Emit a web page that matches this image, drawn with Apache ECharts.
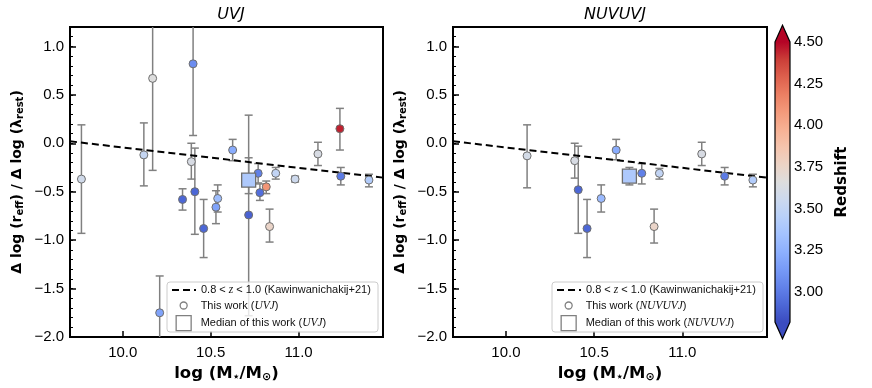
<!DOCTYPE html>
<html>
<head>
<meta charset="utf-8">
<script src="https://cdn.jsdelivr.net/npm/echarts@6/dist/echarts.min.js"></script>
<style>
  html, body { margin: 0; padding: 0; background: #fff; }
  #chart { width: 872px; height: 388px; }
</style>
</head>
<body>
<div id="chart"></div>
<script>
// ---- UVJ panel (left) ----
const uvjMass  = [9.765, 10.12, 10.17, 10.21, 10.34, 10.39, 10.40, 10.41, 10.46, 10.53, 10.54, 10.625, 10.716, 10.77, 10.78, 10.816, 10.835, 10.87, 10.98, 11.11, 11.235, 11.24, 11.40];
const uvjSlope = [-0.37, -0.12, 0.67, -1.75, -0.58, -0.19, 0.82, -0.50, -0.88, -0.66, -0.57, -0.07, -0.74, -0.31, -0.51, -0.45, -0.86, -0.31, -0.37, -0.11, 0.15, -0.34, -0.38];
const uvjLo    = [-0.93, -0.44, -0.28, -2.30, -0.69, -0.37, 0.08, -0.94, -1.18, -0.83, -0.71, -0.18, -1.78, -0.41, -0.59, -0.52, -1.02, -0.37, -0.40, -0.23, -0.07, -0.43, -0.45];
const uvjHi    = [0.19, 0.21, 1.60, -1.37, -0.47, 0.00, 1.60, -0.05, -0.58, -0.49, -0.43, 0.04, 0.29, -0.21, -0.42, -0.39, -0.68, -0.25, -0.34, 0.01, 0.36, -0.25, -0.32];
const uvjZ     = [3.58, 3.52, 3.66, 3.18, 2.92, 3.62, 3.08, 2.92, 2.92, 3.18, 3.32, 3.22, 2.90, 3.02, 2.95, 4.10, 3.75, 3.50, 3.56, 3.62, 4.45, 3.00, 3.42];
const uvjMedMass = [10.716];
const uvjMedSlope = [-0.38];
const uvjMedLo = [-0.52];
const uvjMedHi = [-0.15];
const uvjMedZ = [3.40];

// ---- NUVUVJ panel (right) ----
const nuvMass  = [10.12, 10.39, 10.41, 10.46, 10.54, 10.625, 10.77, 10.84, 10.87, 11.11, 11.24, 11.40];
const nuvSlope = [-0.13, -0.18, -0.48, -0.88, -0.57, -0.07, -0.31, -0.86, -0.31, -0.11, -0.34, -0.38];
const nuvLo    = [-0.46, -0.36, -0.93, -1.18, -0.71, -0.17, -0.42, -1.03, -0.37, -0.23, -0.43, -0.45];
const nuvHi    = [0.19, 0.00, -0.03, -0.58, -0.43, 0.04, -0.21, -0.68, -0.26, 0.01, -0.25, -0.32];
const nuvZ     = [3.60, 3.62, 2.92, 2.92, 3.30, 3.22, 3.02, 3.75, 3.50, 3.62, 3.00, 3.42];
const nuvMedMass = [10.70];
const nuvMedSlope = [-0.34];
const nuvMedLo = [-0.43];
const nuvMedHi = [-0.25];
const nuvMedZ = [3.40];

// Kawinwanichakij+21 relation (0.8 < z < 1.0), end points
const kawMass = [9.70, 11.48];
const kawSlope = [0.02, -0.355];

// axes
const massRange = [9.70, 11.48];
const massTicks = [10.0, 10.5, 11.0];
const slopeRange = [-2.0, 1.2];
const slopeTicks = [-2.0, -1.5, -1.0, -0.5, 0.0, 0.5, 1.0];
const cbarRange = [2.82, 4.5];
const cbarTicks = [3.00, 3.25, 3.50, 3.75, 4.00, 4.25, 4.50];

// matplotlib coolwarm
const coolwarm = ['#3b4cc0', '#4d68d7', '#6282ea', '#779af7', '#8db0fe', '#a3c2ff', '#b8d0f9', '#ccd9ee',
  '#dddddd', '#ecd3c5', '#f5c4ad', '#f7b194', '#f49a7b', '#ec7f63', '#de604d', '#cb3e38', '#b40426'];

const minorTicks = [];
for (let i = -20; i <= 12; i++) minorTicks.push(i / 10);

const FONT = 'DejaVu Sans';
const TICKFONT = 'Liberation Sans';
const ERR = '#808080';

function zip(...cols) {
  return cols[0].map((_, i) => cols.map(c => c[i]));
}

function renderErr(params, api) {
  const x = api.value(0);
  const top = api.coord([x, api.value(2)]);
  const bot = api.coord([x, api.value(1)]);
  const cw = 4;
  const st = { stroke: ERR, lineWidth: 1.5 };
  return {
    type: 'group',
    children: [
      { type: 'line', shape: { x1: top[0], y1: top[1], x2: bot[0], y2: bot[1] }, style: st },
      { type: 'line', shape: { x1: top[0] - cw, y1: top[1], x2: top[0] + cw, y2: top[1] }, style: st },
      { type: 'line', shape: { x1: bot[0] - cw, y1: bot[1], x2: bot[0] + cw, y2: bot[1] }, style: st }
    ]
  };
}

function renderColorbar(params, api) {
  const lo = api.coord([0, cbarRange[0]]);
  const hi = api.coord([1, cbarRange[1]]);
  const tipT = api.coord([0.5, cbarRange[1] + 0.1]);
  const tipB = api.coord([0.5, cbarRange[0] - 0.1]);
  const x0 = lo[0], x1 = hi[0], yT = hi[1], yB = lo[1];
  const n = coolwarm.length - 1;
  const stops = coolwarm.map((c, i) => ({ offset: 1 - i / n, color: c }));
  stops.reverse();
  return {
    type: 'group',
    children: [
      { type: 'rect', shape: { x: x0, y: yT, width: x1 - x0, height: yB - yT },
        style: { fill: new echarts.graphic.LinearGradient(0, 0, 0, 1, stops) } },
      { type: 'polygon', shape: { points: [[x0, yT], tipT, [x1, yT]] }, style: { fill: coolwarm[n] } },
      { type: 'polygon', shape: { points: [[x0, yB], tipB, [x1, yB]] }, style: { fill: coolwarm[0] } },
      { type: 'polygon', shape: { points: [[x0, yT], tipT, [x1, yT], [x1, yB], tipB, [x0, yB]] },
        style: { fill: 'none', stroke: '#000', lineWidth: 1.2 } }
    ]
  };
}

const labelNames = {
  kaw: '0.8 < {i|z} < 1.0 (Kawinwanichakij+21)',
  uvjPts: 'This work ({i|UVJ})',
  uvjMed: 'Median of this work ({i|UVJ})',
  nuvPts: 'This work ({i|NUVUVJ})',
  nuvMed: 'Median of this work ({i|NUVUVJ})'
};
const legendText = {
  fontFamily: TICKFONT, fontSize: 11, color: '#111',
  rich: { i: { fontFamily: 'Liberation Serif', fontStyle: 'italic', fontSize: 11.5, color: '#111' } }
};
// legends are placed by their bounding box, so the icon inset is added to left
function legendRow(item, left, cy, w, h) {
  return {
    left: left, top: cy - 7, itemWidth: w, itemHeight: h, padding: 0,
    selectedMode: false, z: 101, data: [item], textStyle: legendText,
    formatter: name => labelNames[name]
  };
}
const dashLine = name => ({ name: name, itemStyle: { opacity: 0, color: 'transparent', borderWidth: 0 } });
const openCircle = name => ({ name: name, icon: 'path://M5,0A5,5 0 1 1 5,10A5,5 0 1 1 5,0Z', itemStyle: { color: '#fff', borderColor: ERR, borderWidth: 1.3 } });
const openSquare = name => ({ name: name, icon: 'path://M0,0H10V10H0Z', itemStyle: { color: '#fff', borderColor: ERR, borderWidth: 1.3 } });

const yName = '{b|Δ log (r}{s|eff}{b|) / Δ log (λ}{s|rest}{b|)}';
const yNameStyle = {
  color: '#000',
  rich: {
    b: { fontFamily: FONT, fontWeight: 'bold', fontSize: 14, color: '#000' },
    s: { fontFamily: FONT, fontWeight: 'bold', fontSize: 10, color: '#000', padding: [6, 0, 0, 0] }
  }
};
const xName = '{b|log (M}{s|⋆}{b|/M}{s|⊙}{b|)}';
const xNameStyle = {
  color: '#000',
  rich: {
    b: { fontFamily: FONT, fontWeight: 'bold', fontSize: 16.5, color: '#000' },
    s: { fontFamily: FONT, fontWeight: 'bold', fontSize: 11, color: '#000', padding: [7, 0, 0, 0] }
  }
};

function massAxis(gridIndex) {
  return {
    type: 'value', gridIndex: gridIndex, min: massRange[0], max: massRange[1],
    name: xName, nameLocation: 'middle', nameGap: 23, nameTextStyle: xNameStyle,
    axisLine: { show: true, onZero: false, lineStyle: { color: '#000', width: 2 } },
    axisTick: { show: true, inside: true, length: 6, customValues: massTicks, lineStyle: { color: '#000', width: 1.5 } },
    axisLabel: { customValues: massTicks, formatter: v => v.toFixed(1), fontFamily: TICKFONT, fontSize: 15, color: '#000', margin: 8 },
    splitLine: { show: false }
  };
}
function slopeAxis(gridIndex) {
  return {
    type: 'value', gridIndex: gridIndex, min: slopeRange[0], max: slopeRange[1],
    name: yName, nameLocation: 'middle', nameGap: 45, nameRotate: 90, nameTextStyle: yNameStyle,
    axisLine: { show: true, onZero: false, lineStyle: { color: '#000', width: 2 } },
    axisTick: { show: true, inside: true, length: 6, customValues: slopeTicks, lineStyle: { color: '#000', width: 1.5 } },
    axisLabel: { customValues: slopeTicks, formatter: v => v.toFixed(1).replace('-', '\u2212'), fontFamily: TICKFONT, fontSize: 15, color: '#000', margin: 6 },
    splitLine: { show: false }
  };
}
function minorAxis(gridIndex) {
  return {
    type: 'value', gridIndex: gridIndex, min: slopeRange[0], max: slopeRange[1], position: 'left',
    axisLine: { show: false, onZero: false },
    axisTick: { show: true, inside: true, length: 3, customValues: minorTicks, lineStyle: { color: '#000', width: 1 } },
    axisLabel: { show: false }, splitLine: { show: false }
  };
}

function panelSeries(prefix, gridIdx, yIdx, mass, slope, lo, hi, z, mMass, mSlope, mLo, mHi, mZ) {
  return [
    {
      name: 'kaw', type: 'line', xAxisIndex: gridIdx, yAxisIndex: yIdx, data: zip(kawMass, kawSlope),
      symbol: 'none', itemStyle: { color: '#000' }, lineStyle: { color: '#000', width: 2, type: [7, 4] }, z: 3, silent: true
    },
    {
      type: 'custom', xAxisIndex: gridIdx, yAxisIndex: yIdx, renderItem: renderErr, clip: true, z: 2,
      data: zip(mass.concat(mMass), lo.concat(mLo), hi.concat(mHi))
    },
    {
      name: prefix + 'Pts', type: 'scatter', xAxisIndex: gridIdx, yAxisIndex: yIdx, symbol: 'circle', symbolSize: 8,
      itemStyle: { borderColor: '#6e6e6e', borderWidth: 1, opacity: 1 }, z: 4,
      data: zip(mass, slope, z)
    },
    {
      name: prefix + 'Med', type: 'scatter', xAxisIndex: gridIdx, yAxisIndex: yIdx, symbol: 'rect', symbolSize: 14,
      itemStyle: { borderColor: '#6e6e6e', borderWidth: 1.3, opacity: 1 }, z: 5,
      data: zip(mMass, mSlope, mZ)
    }
  ];
}

const chart = echarts.init(document.getElementById('chart'));
const option = {
  animation: false,
  backgroundColor: '#fff',
  title: [
    { text: 'UVJ', left: 226, top: 2, textAlign: 'center',
      textStyle: { fontFamily: FONT, fontStyle: 'italic', fontWeight: 'normal', fontSize: 16, color: '#000' } },
    { text: 'NUVUVJ', left: 610, top: 2, textAlign: 'center',
      textStyle: { fontFamily: FONT, fontStyle: 'italic', fontWeight: 'normal', fontSize: 16, color: '#000' } }
  ],
  grid: [
    { left: 70, top: 27, width: 313, height: 310, show: true, borderColor: '#000', borderWidth: 2, backgroundColor: 'transparent' },
    { left: 453, top: 27, width: 314, height: 310, show: true, borderColor: '#000', borderWidth: 2, backgroundColor: 'transparent' },
    { left: 775, top: 42, width: 15, height: 280 }
  ],
  xAxis: [
    massAxis(0),
    massAxis(1),
    { type: 'value', gridIndex: 2, min: 0, max: 1, show: false }
  ],
  yAxis: [
    slopeAxis(0),
    minorAxis(0),
    slopeAxis(1),
    minorAxis(1),
    {
      type: 'value', gridIndex: 2, min: cbarRange[0], max: cbarRange[1], position: 'right',
      name: 'Redshift', nameLocation: 'middle', nameGap: 45, nameRotate: 90,
      nameTextStyle: { fontFamily: FONT, fontWeight: 'bold', fontSize: 15, color: '#000' },
      axisLine: { show: false },
      axisTick: { show: true, inside: false, length: 4, customValues: cbarTicks, lineStyle: { color: '#000', width: 1.2 } },
      axisLabel: { customValues: cbarTicks, formatter: v => v.toFixed(2), fontFamily: TICKFONT, fontSize: 15, color: '#000', margin: 4 },
      splitLine: { show: false }
    }
  ],
  visualMap: {
    type: 'continuous', show: false, min: cbarRange[0], max: cbarRange[1], dimension: 2,
    seriesIndex: [2, 3, 6, 7], inRange: { color: coolwarm }
  },
  graphic: [
    { type: 'rect', z: 100, shape: { x: 167, y: 282, width: 211, height: 50, r: 3 },
      style: { fill: 'rgba(255,255,255,0.8)', stroke: '#cccccc', lineWidth: 1 } },
    { type: 'rect', z: 100, shape: { x: 552, y: 282, width: 211, height: 50, r: 3 },
      style: { fill: 'rgba(255,255,255,0.8)', stroke: '#cccccc', lineWidth: 1 } }
  ],
  legend: [
    legendRow(dashLine('kaw'), 171, 291, 24, 14),
    legendRow(openCircle('uvjPts'), 179.5, 306.5, 24, 7),
    legendRow(openSquare('uvjMed'), 175.5, 322, 24, 15),
    legendRow(dashLine('kaw'), 556, 291, 24, 14),
    legendRow(openCircle('nuvPts'), 564.5, 306.5, 24, 7),
    legendRow(openSquare('nuvMed'), 560.5, 322, 24, 15)
  ],
  series: [].concat(
    panelSeries('uvj', 0, 0, uvjMass, uvjSlope, uvjLo, uvjHi, uvjZ, uvjMedMass, uvjMedSlope, uvjMedLo, uvjMedHi, uvjMedZ),
    panelSeries('nuv', 1, 2, nuvMass, nuvSlope, nuvLo, nuvHi, nuvZ, nuvMedMass, nuvMedSlope, nuvMedLo, nuvMedHi, nuvMedZ),
    [{
      type: 'custom', xAxisIndex: 2, yAxisIndex: 4, renderItem: renderColorbar, clip: false, silent: true,
      data: [[0, cbarRange[0]]]
    }]
  )
};
chart.setOption(option);
window.addEventListener('resize', () => chart.resize());
</script>
</body>
</html>
